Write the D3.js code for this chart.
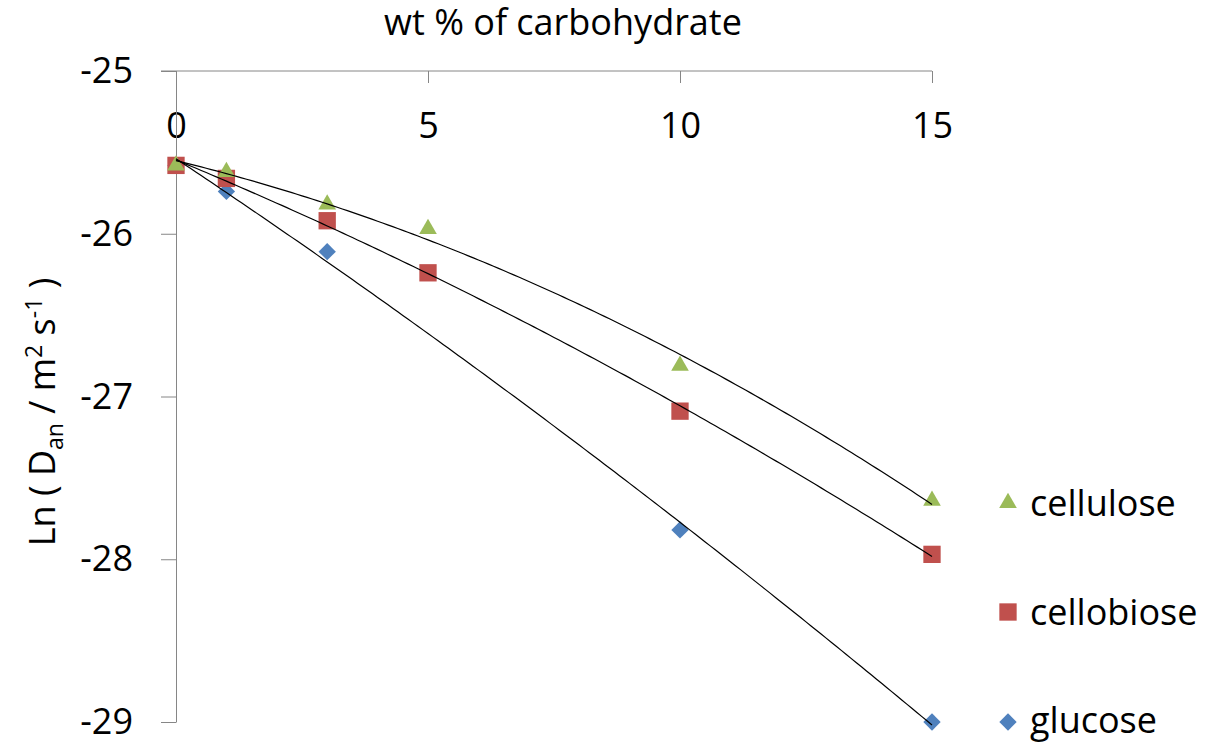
<!DOCTYPE html>
<html>
<head>
<meta charset="utf-8">
<script src="https://cdn.jsdelivr.net/npm/d3@7"></script>
<style>
  html, body { margin: 0; padding: 0; background: #fff; }
  svg text { font-family: "Open Sans", "Noto Sans", sans-serif; fill: #000; }
</style>
</head>
<body>
<svg id="chart" width="1218" height="742"></svg>
<script>
// wt % of carbohydrate
const xCellulose  = [0, 1, 3, 5, 10, 15];
const yCellulose  = [-25.58, -25.62, -25.82, -25.97, -26.81, -27.64];
const xCellobiose = [0, 1, 3, 5, 10, 15];
const yCellobiose = [-25.58, -25.66, -25.92, -26.24, -27.09, -27.97];
const xGlucose    = [0, 1, 3, 10, 15];
const yGlucose    = [-25.58, -25.74, -26.11, -27.82, -29.0];

const xTicks = [0, 5, 10, 15];
const yTicks = [-25, -26, -27, -28, -29];

const svg = d3.select("#chart");

const x = d3.scaleLinear().domain([0, 15]).range([176, 932]);
const y = d3.scaleLinear().domain([-25, -29]).range([71, 722]);

const axisColor = "#868686";
const fontSize = 36;

// Quadratic least-squares fit (order-2 polynomial trendline)
function polyFit2(xs, ys) {
  let S = [0, 0, 0, 0, 0], T = [0, 0, 0];
  xs.forEach((xv, i) => {
    for (let k = 0; k <= 4; k++) S[k] += Math.pow(xv, k);
    for (let k = 0; k <= 2; k++) T[k] += ys[i] * Math.pow(xv, k);
  });
  const A = [[S[0], S[1], S[2], T[0]], [S[1], S[2], S[3], T[1]], [S[2], S[3], S[4], T[2]]];
  for (let i = 0; i < 3; i++) {
    for (let j = i + 1; j < 3; j++) {
      const f = A[j][i] / A[i][i];
      for (let k = i; k < 4; k++) A[j][k] -= f * A[i][k];
    }
  }
  const c = [0, 0, 0];
  for (let i = 2; i >= 0; i--) {
    let s = A[i][3];
    for (let k = i + 1; k < 3; k++) s -= A[i][k] * c[k];
    c[i] = s / A[i][i];
  }
  return xv => c[0] + c[1] * xv + c[2] * xv * xv;
}

// Diamond drawn as a square turned 45 degrees
const symbolDiamondSquare = {
  draw(context, size) {
    const r = Math.sqrt(size) / Math.SQRT2;
    context.moveTo(0, -r);
    context.lineTo(r, 0);
    context.lineTo(0, r);
    context.lineTo(-r, 0);
    context.closePath();
  }
};

// Axes: x axis sits on top (at -25) with ticks pointing down, labels below
const xAxis = d3.axisBottom(x).tickValues(xTicks).tickSize(12).tickSizeOuter(0).tickPadding(29);
const gx = svg.append("g").attr("transform", `translate(0,${y(-25)})`).call(xAxis);
gx.select(".domain").attr("stroke", axisColor).attr("d", `M${x(0) - 15},0H${x(15)}`);
gx.selectAll(".tick line").attr("stroke", axisColor);
gx.selectAll(".tick text").attr("font-size", fontSize);

const yAxis = d3.axisLeft(y).tickValues(yTicks).tickSize(15).tickSizeOuter(0).tickPadding(28)
  .tickFormat(d => d3.format("d")(d).replace("−", "-"));
const gy = svg.append("g").attr("transform", `translate(${x(0)},0)`).call(yAxis);
gy.select(".domain").attr("stroke", axisColor);
gy.selectAll(".tick line").attr("stroke", axisColor);
gy.selectAll(".tick text").attr("font-size", fontSize);

// Axis titles
svg.append("text")
  .attr("x", 563).attr("y", 35)
  .attr("text-anchor", "middle").attr("font-size", fontSize)
  .text("wt % of carbohydrate");

const yt = svg.append("text")
  .attr("transform", `translate(55,412) rotate(-90)`)
  .attr("text-anchor", "middle").attr("font-size", fontSize);
yt.append("tspan").text("Ln ( D");
yt.append("tspan").attr("font-size", 23).attr("dy", 8).text("an");
yt.append("tspan").attr("dy", -8).text(" / m");
yt.append("tspan").attr("font-size", 23).attr("dy", -13).text("2");
yt.append("tspan").attr("dy", 13).text(" s");
yt.append("tspan").attr("font-size", 23).attr("dy", -13).text("-1");
yt.append("tspan").attr("dy", 13).text(" )");

const series = [
  { name: "cellulose",  xs: xCellulose,  ys: yCellulose,  color: "#9BBB59", shape: d3.symbolTriangle,   size: 135, legendY: 503 },
  { name: "cellobiose", xs: xCellobiose, ys: yCellobiose, color: "#C0504D", shape: d3.symbolSquare,     size: 300, legendY: 612 },
  { name: "glucose",    xs: xGlucose,    ys: yGlucose,    color: "#4F81BD", shape: symbolDiamondSquare, size: 150, legendY: 722 }
];

// Markers first, trendlines on top
series.slice().reverse().forEach(s => {
  svg.append("g").selectAll("path")
    .data(s.xs.map((xv, i) => [xv, s.ys[i]]))
    .join("path")
    .attr("d", d3.symbol().type(s.shape).size(s.size))
    .attr("transform", d => `translate(${x(d[0])},${y(d[1])})`)
    .attr("fill", s.color);
});

series.forEach(s => {
  const f = polyFit2(s.xs, s.ys);
  const pts = d3.range(0, 15.001, 0.1).map(v => [v, f(v)]);
  svg.append("path")
    .attr("d", d3.line().x(d => x(d[0])).y(d => y(d[1]))(pts))
    .attr("fill", "none").attr("stroke", "#000").attr("stroke-width", 1.2);
});

// Legend
series.forEach(s => {
  svg.append("path")
    .attr("d", d3.symbol().type(s.shape).size(s.size))
    .attr("transform", `translate(1008,${s.legendY})`)
    .attr("fill", s.color);
  svg.append("text")
    .attr("x", 1030).attr("y", Math.min(s.legendY + 13, 733))
    .attr("font-size", fontSize)
    .text(s.name);
});
</script>
</body>
</html>
